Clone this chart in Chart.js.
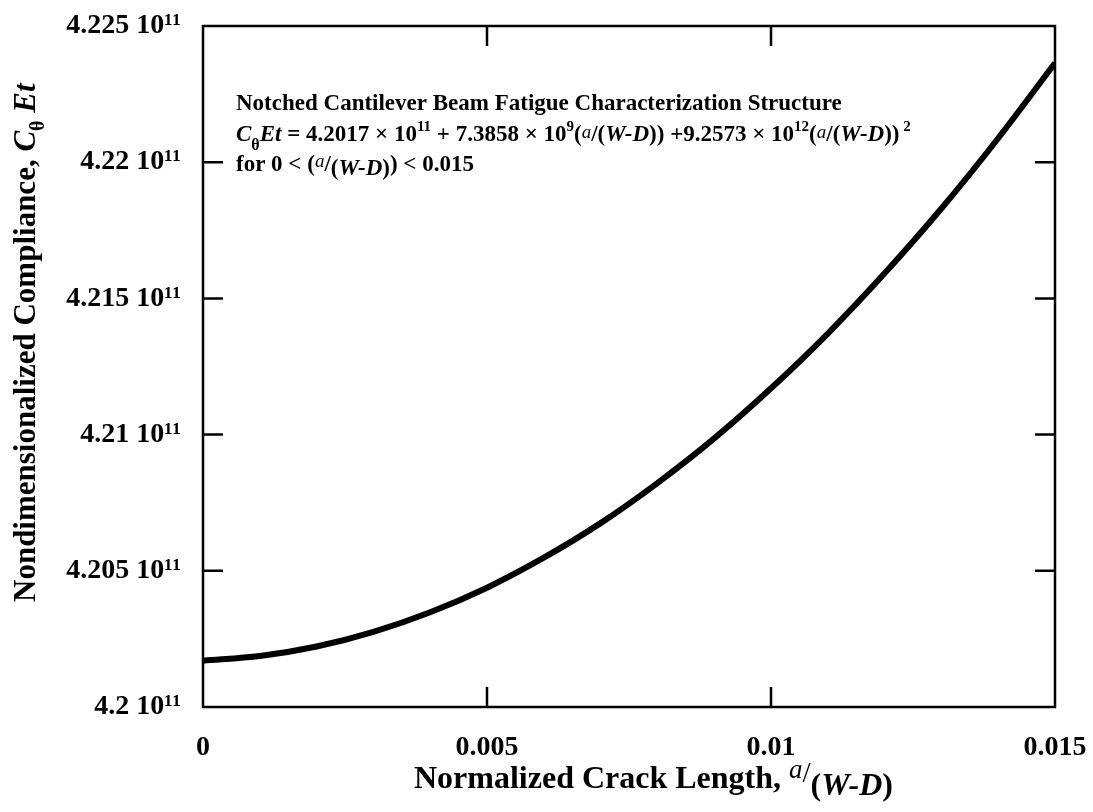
<!DOCTYPE html>
<html lang="en">
<head>
<meta charset="UTF-8">
<title>Notched Cantilever Beam Compliance</title>
<script src="https://cdn.jsdelivr.net/npm/chart.js"></script>
<style>
  body { margin: 0; background: #fff; }
  #wrap { width: 1093px; height: 812px; }
</style>
</head>
<body>
<div id="wrap"><canvas id="chart"></canvas></div>
<script>
  // normalized crack length a/(W-D)
  const crackLength = [0, 0.001, 0.002, 0.003, 0.004, 0.005, 0.006, 0.007,
                       0.008, 0.009, 0.010, 0.011, 0.012, 0.013, 0.014, 0.015];
  // C_theta E t, in units of 10^11
  const compliance = [4.2017, 4.20187, 4.20222, 4.20276, 4.20348, 4.20438, 4.20548, 4.20675,
                      4.20822, 4.20986, 4.2117, 4.21371, 4.21592, 4.2183, 4.22088, 4.22364];
  const xTicks = [0, 0.005, 0.01, 0.015];
  const yTicks = [4.2, 4.205, 4.21, 4.215, 4.22, 4.225];

  const FAMILY = '"Liberation Serif", "Times New Roman", serif';
  const F = (size, style) => (style || 'bold') + ' ' + size + 'px ' + FAMILY;

  // draw a row of text pieces with their own font and vertical shift
  function drawRuns(ctx, x, y, runs) {
    let cx = x;
    runs.forEach(r => {
      ctx.font = r.f;
      ctx.fillText(r.t, cx, y + (r.dy || 0));
      cx += ctx.measureText(r.t).width;
    });
    return cx;
  }

  const framePlugin = {
    id: 'frame',
    afterDraw(chart) {
      const ctx = chart.ctx;
      const a = chart.chartArea;
      const xs = chart.scales.x, ys = chart.scales.y;
      const tick = 20;
      ctx.save();
      ctx.strokeStyle = '#000';
      ctx.lineWidth = 2.5;
      ctx.strokeRect(a.left, a.top, a.right - a.left, a.bottom - a.top);

      // inner tick marks on all four sides
      ctx.beginPath();
      yTicks.slice(1, -1).forEach(v => {
        const py = ys.getPixelForValue(v);
        ctx.moveTo(a.left, py); ctx.lineTo(a.left + tick, py);
        ctx.moveTo(a.right, py); ctx.lineTo(a.right - tick, py);
      });
      xTicks.slice(1, -1).forEach(v => {
        const px = xs.getPixelForValue(v);
        ctx.moveTo(px, a.bottom); ctx.lineTo(px, a.bottom - tick);
        ctx.moveTo(px, a.top); ctx.lineTo(px, a.top + tick);
      });
      ctx.stroke();

      ctx.fillStyle = '#000';
      ctx.textAlign = 'left';
      ctx.textBaseline = 'alphabetic';

      // annotation inside the plot
      const s = 23, sup = 15, sm = 19;
      drawRuns(ctx, 236, 110, [
        { t: 'Notched Cantilever Beam Fatigue Characterization Structure', f: F(s) }
      ]);
      drawRuns(ctx, 236, 141, [
        { t: 'C', f: F(s, 'italic bold') },
        { t: 'θ', f: F(16), dy: 9 },
        { t: 'Et', f: F(s, 'italic bold') },
        { t: ' = 4.2017 × 10', f: F(s) },
        { t: '11', f: F(sup), dy: -10 },
        { t: ' + 7.3858 × 10', f: F(s) },
        { t: '9', f: F(sup), dy: -10 },
        { t: '(', f: F(s) },
        { t: 'a', f: F(sm, 'italic'), dy: -3 },
        { t: '/(', f: F(s) },
        { t: 'W-D', f: F(s, 'italic bold') },
        { t: ')) +9.2573 × 10', f: F(s) },
        { t: '12', f: F(sup), dy: -10 },
        { t: '(', f: F(s) },
        { t: 'a', f: F(sm, 'italic'), dy: -3 },
        { t: '/(', f: F(s) },
        { t: 'W-D', f: F(s, 'italic bold') },
        { t: '))', f: F(s) },
        { t: ' 2', f: F(sup), dy: -10 }
      ]);
      drawRuns(ctx, 236, 171, [
        { t: 'for 0 < (', f: F(s) },
        { t: 'a', f: F(sm, 'italic'), dy: -4 },
        { t: '/', f: F(s) },
        { t: '(', f: F(s), dy: 4 },
        { t: 'W-D', f: F(s, 'italic bold'), dy: 4 },
        { t: ')', f: F(s), dy: 4 },
        { t: ') < 0.015', f: F(s) }
      ]);

      // x axis title
      drawRuns(ctx, 414, 788, [
        { t: 'Normalized Crack Length, ', f: F(32) },
        { t: 'a', f: F(27, 'italic'), dy: -10 },
        { t: '/', f: F(29, 'normal'), dy: -6 },
        { t: '(', f: F(32), dy: 7 },
        { t: 'W-D', f: F(32, 'italic bold'), dy: 7 },
        { t: ')', f: F(32), dy: 7 }
      ]);

      // y axis title, rotated
      ctx.translate(35, 602);
      ctx.rotate(-Math.PI / 2);
      drawRuns(ctx, 0, 0, [
        { t: 'Nondimensionalized Compliance, ', f: F(31) },
        { t: 'C', f: F(31, 'italic bold') },
        { t: 'θ', f: F(20), dy: 9 },
        { t: ' Et', f: F(31, 'italic bold') }
      ]);
      ctx.restore();
    }
  };

  new Chart(document.getElementById('chart'), {
    type: 'line',
    data: {
      datasets: [{
        data: crackLength.map((x, i) => ({ x: x, y: compliance[i] })),
        borderColor: '#000',
        borderWidth: 6,
        pointRadius: 0,
        fill: false,
        cubicInterpolationMode: 'monotone'
      }]
    },
    options: {
      responsive: true,
      maintainAspectRatio: false,
      animation: false,
      layout: { padding: { top: 26, right: 38, left: 0, bottom: 0 } },
      plugins: { legend: { display: false }, tooltip: { enabled: false } },
      scales: {
        x: {
          type: 'linear', min: 0, max: 0.015,
          afterBuildTicks: s => { s.ticks = xTicks.map(v => ({ value: v })); },
          afterFit: s => { s.height = 105; s.paddingLeft = 0; s.paddingRight = 0; },
          grid: { display: false, drawTicks: false },
          border: { display: false },
          ticks: {
            color: '#000', font: { family: FAMILY, size: 28, weight: 'bold' },
            padding: 24, maxRotation: 0, autoSkip: false,
            callback: v => String(v)
          }
        },
        y: {
          type: 'linear', min: 4.2, max: 4.225,
          afterBuildTicks: s => { s.ticks = yTicks.map(v => ({ value: v })); },
          afterFit: s => { s.width = 203; s.paddingTop = 0; s.paddingBottom = 0; },
          grid: { display: false, drawTicks: false },
          border: { display: false },
          ticks: {
            color: '#000', font: { family: FAMILY, size: 28, weight: 'bold' },
            padding: 22, autoSkip: false,
            callback: v => v + ' 10¹¹'
          }
        }
      }
    },
    plugins: [framePlugin]
  });
</script>
</body>
</html>
